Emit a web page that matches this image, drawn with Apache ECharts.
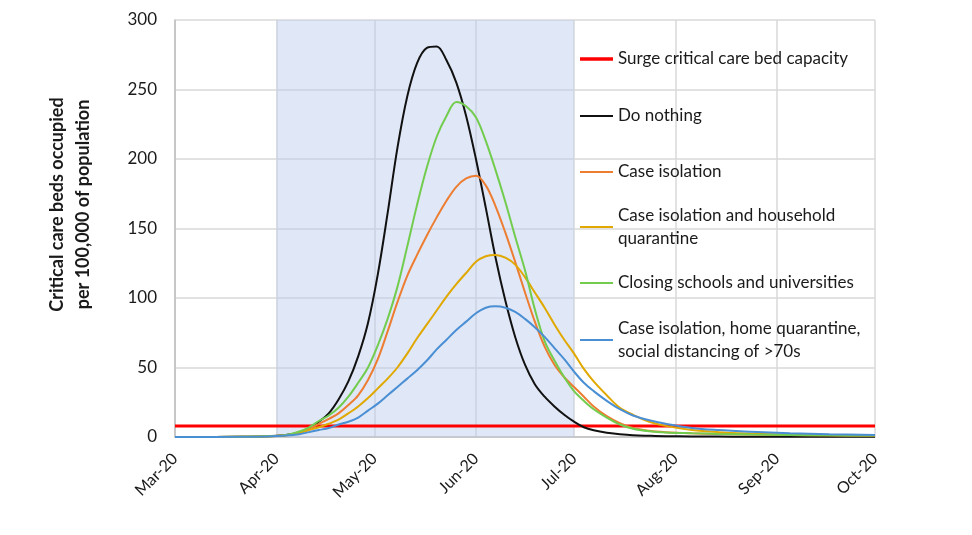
<!DOCTYPE html>
<html>
<head>
<meta charset="utf-8">
<script src="https://cdn.jsdelivr.net/npm/echarts@6/dist/echarts.min.js"></script>
<style>
html,body{margin:0;padding:0;background:#fff;}
#chart{width:972px;height:535px;}
</style>
</head>
<body>
<div id="chart"></div>
<script>
// Days counted from 1 March 2020
const days = [0, 20, 28, 34, 38, 41, 44, 47, 50, 53, 56, 59, 62, 65, 68, 71, 74, 77, 80, 83, 86, 89, 92, 95, 98, 101, 104, 107, 110, 113, 116, 119, 122, 125, 128, 132, 136, 140, 145, 150, 158, 166, 176, 188, 200, 214];
const doNothing      = [0, 0.1, 0.5, 1.5, 3, 6, 11, 17, 27, 40, 58, 82, 117, 161, 208, 245, 269, 280, 281, 271, 255, 231, 200, 165, 129, 98, 72, 52, 38, 29, 22, 16, 11, 7, 4.8, 3, 2, 1.3, 0.9, 0.6, 0.4, 0.3, 0.2, 0.1, 0.1, 0.1];
const caseIsolation  = [0, 0.1, 0.5, 1.3, 3.5, 6, 9.5, 13, 17, 23, 30, 41, 56, 76, 97, 116, 131, 145, 158, 170, 180, 186, 188, 181, 166, 147, 126, 104, 83, 65, 52, 43, 36, 29, 22, 15, 10, 6.5, 4.5, 3.5, 2.7, 2.2, 1.8, 1.5, 1.2, 1];
const householdQuar  = [0, 0.1, 0.5, 1.2, 3, 5, 7, 9.5, 12.5, 17, 22, 28, 35, 42, 50, 60, 71, 81, 91, 101, 110, 118, 126, 130, 131, 129, 124, 115, 104, 93, 81, 70, 60, 49, 40, 30, 21, 16, 11, 8, 5, 3.5, 2.5, 1.7, 1.3, 1];
const closingSchools = [0, 0.1, 0.5, 1.5, 4, 7, 11.5, 15.5, 21, 29, 39, 50, 66, 85, 108, 137, 167, 194, 216, 231, 241, 238, 230, 213, 192, 169, 144, 120, 92, 69, 55, 43, 33, 26, 20, 14, 9, 6, 4.2, 3.3, 2.7, 2.2, 1.8, 1.5, 1.2, 1];
const socialDistance = [0, 0.1, 0.4, 1, 2, 3.5, 5, 6.5, 9, 11, 14, 19, 24, 30, 36, 42, 48, 55, 63, 70, 77, 83, 89, 93, 94, 93, 90, 85, 79, 72, 64, 56, 47, 39, 33, 26, 20, 15.5, 12, 9.5, 6.5, 5, 3.8, 2.7, 2, 1.4];
const surgeCapacity = 8;
const xTickLabels = ['Mar-20', 'Apr-20', 'May-20', 'Jun-20', 'Jul-20', 'Aug-20', 'Sep-20', 'Oct-20'];
const yTicks = [0, 50, 100, 150, 200, 250, 300];
const shadeFromDay = 31;   // 1 April
const shadeToDay = 122;    // 1 July

const seriesNames = [
  'Surge critical care bed capacity',
  'Do nothing',
  'Case isolation',
  'Case isolation and household\nquarantine',
  'Closing schools and universities',
  'Case isolation, home quarantine,\nsocial distancing of >70s'
];
const colors = ['#ff0000', '#111111', '#ed7d31', '#e0a800', '#72cc4e', '#4a8fd4'];

function toTime(d) { return new Date(2020, 2, 1 + d).getTime(); }
function pairs(arr) { return days.map((d, i) => [toTime(d), arr[i]]); }

const chart = echarts.init(document.getElementById('chart'));
const font = 'Lato, "Liberation Sans", sans-serif';

const legendTops = [47.5, 104.5, 160.5, 192.5, 271.5, 305.5];
const legends = seriesNames.map((n, i) => {
  const twoLine = n.indexOf('\n') >= 0;
  return {
    data: [n],
    left: 580,
    top: legendTops[i],
    padding: 0,
    icon: 'rect',
    itemWidth: 33,
    itemHeight: i === 0 ? 3.5 : 2.2,
    itemGap: 4,
    selectedMode: false,
    textStyle: {
      fontFamily: font, fontSize: 17, color: '#1a1a1a', lineHeight: 23,
      padding: twoLine ? [23, 0, 0, 0] : 0
    }
  };
});

const lineData = [doNothing, caseIsolation, householdQuar, closingSchools, socialDistance];

const series = [
  {
    name: seriesNames[0], type: 'line', symbol: 'none', z: 3,
    data: [[toTime(0), surgeCapacity], [toTime(214), surgeCapacity]],
    lineStyle: { color: colors[0], width: 3 },
    itemStyle: { color: colors[0] },
    markArea: {
      silent: true,
      itemStyle: { color: 'rgba(186,202,236,0.45)' },
      data: [[{ xAxis: toTime(shadeFromDay) }, { xAxis: toTime(shadeToDay) }]]
    }
  }
];
lineData.forEach((arr, i) => {
  series.push({
    name: seriesNames[i + 1], type: 'line', symbol: 'none', smooth: 0.35, z: 4,
    data: pairs(arr),
    lineStyle: { color: colors[i + 1], width: 2 },
    itemStyle: { color: colors[i + 1] }
  });
});

chart.setOption({
  animation: false,
  color: colors,
  legend: legends,
  grid: { left: 175, right: 97, top: 20, bottom: 98, containLabel: false },
  xAxis: {
    type: 'time',
    min: toTime(0), max: toTime(214),
    splitNumber: 8,
    axisLine: { show: true, lineStyle: { color: '#c0c0c0', width: 1.5 } },
    axisTick: { show: false },
    splitLine: { show: true, lineStyle: { color: '#d9d9d9', width: 1.5 } },
    axisLabel: {
      rotate: 45, margin: 19, fontFamily: font, fontSize: 16, color: '#1a1a1a',
      showMinLabel: true, showMaxLabel: true, hideOverlap: false,
      formatter: function (val) {
        const d = new Date(val);
        const i = (d.getFullYear() - 2020) * 12 + d.getMonth() - 2;
        return d.getDate() === 1 ? (xTickLabels[i] || '') : '';
      }
    }
  },
  yAxis: {
    type: 'value', min: yTicks[0], max: yTicks[yTicks.length - 1], interval: 50,
    name: 'Critical care beds occupied\nper 100,000 of population',
    nameLocation: 'middle', nameGap: 79,
    nameTextStyle: { fontFamily: font, fontSize: 18, fontWeight: 'bold', color: '#1a1a1a', lineHeight: 26, padding: [0, 0, 0, 48] },
    axisLine: { show: true, lineStyle: { color: '#c0c0c0', width: 1.5 } },
    axisTick: { show: false },
    splitLine: { show: true, lineStyle: { color: '#d9d9d9', width: 1.5 } },
    axisLabel: { margin: 18, fontFamily: font, fontSize: 17, color: '#1a1a1a' }
  },
  series: series
});
</script>
</body>
</html>
